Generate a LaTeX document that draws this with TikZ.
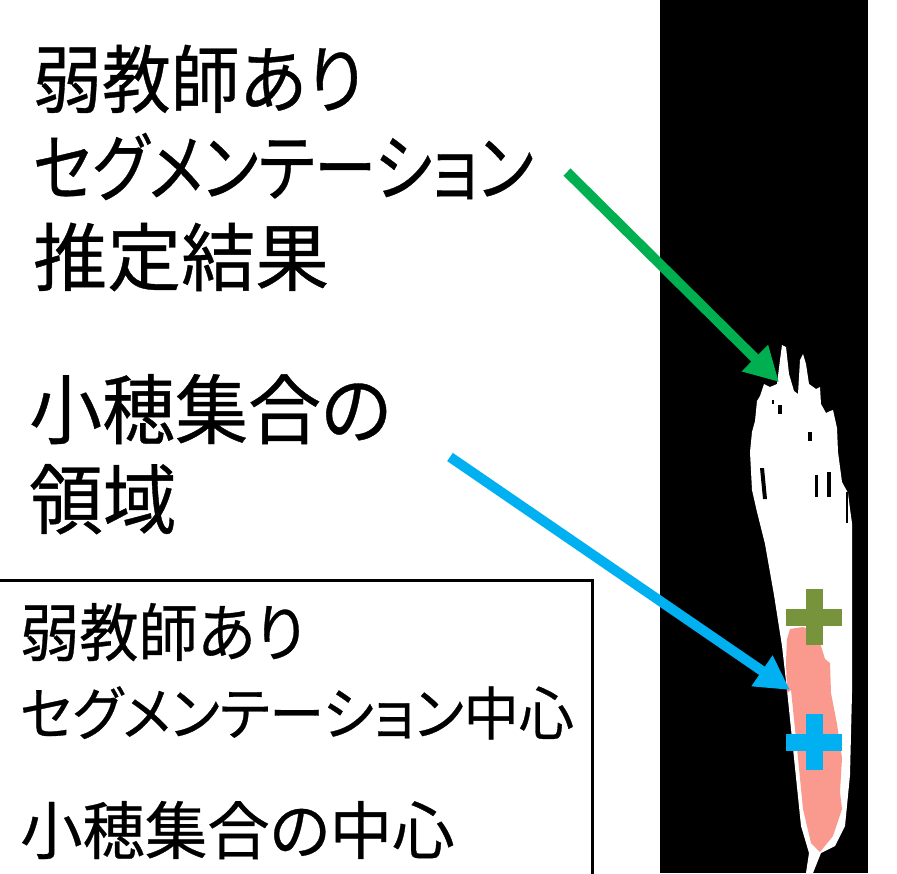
\documentclass[tikz,border=0pt]{standalone}
\usepackage{fontspec}
\usetikzlibrary{arrows.meta}
\newfontfamily\jp[RawFeature=+palt,FakeBold=0.5]{Noto Sans CJK JP}
\definecolor{arrowgreen}{HTML}{00B050}
\definecolor{arrowblue}{HTML}{00B0F0}
\definecolor{regionpink}{HTML}{FA9A8E}
\definecolor{crossolive}{HTML}{77933C}
% one line of text at size #1, squeezed horizontally by #2
\newcommand{\jline}[3]{{\jp\fontsize{#1}{#1}\selectfont\scalebox{#2}[1]{#3}}}
\tikzset{
  label/.style={inner sep=0pt, anchor=base west},
  bigarrow/.style={line width=10pt, -{Triangle[length=34pt,width=35pt]}},
  crossbar/.style={line width=17pt},
}
\begin{document}
\begin{tikzpicture}[x=1pt,y=-1pt]
\useasboundingbox (0,0) rectangle (897,873);
\fill[white] (0,0) rectangle (897,873);

% dark image panel
\fill[black] (660,0) rectangle (868,873);

% segmentation mask (white)
\fill[white]
  (806,873) -- (809,853) -- (801,826) -- (794,758) -- (787,690) -- (782,646)
  -- (774,595) -- (765,544) -- (757,512) -- (752,490) -- (750,452) -- (752,432)
  -- (755,421) -- (757,401) -- (760,396) -- (764,384) -- (770,387) -- (777,384)
  -- (780,360) -- (782,345) -- (786,347) -- (789,374) -- (794,391) -- (798,394)
  -- (800,360) -- (803,354) -- (806,364) -- (809,384) -- (816,389) -- (820,387)
  -- (821,404) -- (826,413) -- (830,411) -- (833,410) -- (837,428) -- (838,452)
  -- (842,482) -- (848,493) -- (850,509) -- (852,523) -- (852,578) -- (852,693)
  -- (850,775) -- (845,826) -- (835,846) -- (821,853) -- (813,873) -- cycle;

% gaps inside the mask
\fill[black] (778,405) rectangle (782,414);
\fill[black] (808,432) rectangle (812,441);
\fill[black] (760,468) -- (764,468) -- (767,499) -- (763,499) -- cycle;
\fill[black] (815,475) rectangle (818,497);
\fill[black] (827,472) rectangle (831,497);
\fill[black] (846,492) rectangle (848,523);
\fill[black] (772,400) rectangle (774,404);

% spikelet region (pink)
\fill[regionpink]
  (787,639) -- (790,629) -- (803,627) -- (812,630) -- (821,646) -- (825,659)
  -- (830,663) -- (831,693) -- (837,724) -- (842,758) -- (840,792) -- (842,809)
  -- (833,836) -- (820,852) -- (811,843) -- (803,809) -- (798,758) -- (791,690)
  -- (787,693) -- (786,662) -- cycle;

% centre markers
\coordinate (segc) at (814,617);
\coordinate (spkc) at (814,742);
\draw[crossolive, crossbar] ([xshift=-28pt]segc) -- ([xshift=28pt]segc);
\draw[crossolive, crossbar] ([yshift=-28pt]segc) -- ([yshift=28pt]segc);
\draw[arrowblue, crossbar] ([xshift=-28pt]spkc) -- ([xshift=28pt]spkc);
\draw[arrowblue, crossbar] ([yshift=-28pt]spkc) -- ([yshift=28pt]spkc);

% labels
\node[label] (t1) at (33,107) {\jline{74}{0.93}{弱教師あり}};
\node[label] (t2) at (33,195) {\jline{74}{0.84}{セグメンテーション}};
\node[label] (t3) at (33,285) {\jline{74}{1.0}{推定結果}};
\node[label] (r1) at (29,438) {\jline{76}{0.96}{小穂集合の}};
\node[label] (r2) at (29,528) {\jline{76}{0.97}{領域}};

% legend box
\draw[line width=3pt, black] (-5,580) rectangle (592,900);
\node[label] (k1) at (20,656) {\jline{63}{0.94}{弱教師あり}};
\node[label] (k2) at (20,735) {\jline{58}{0.95}{セグメンテーション中心}};
\node[label] (k3) at (20,854) {\jline{63}{0.99}{小穂集合の中心}};

% pointers
\coordinate (gs) at (567,172);
\coordinate (gt) at (779,382);
\coordinate (bs) at (450,457);
\coordinate (bt) at (790,690);
\draw[arrowgreen, bigarrow] (gs) -- (gt);
\draw[arrowblue, bigarrow] (bs) -- (bt);
\end{tikzpicture}
\end{document}
